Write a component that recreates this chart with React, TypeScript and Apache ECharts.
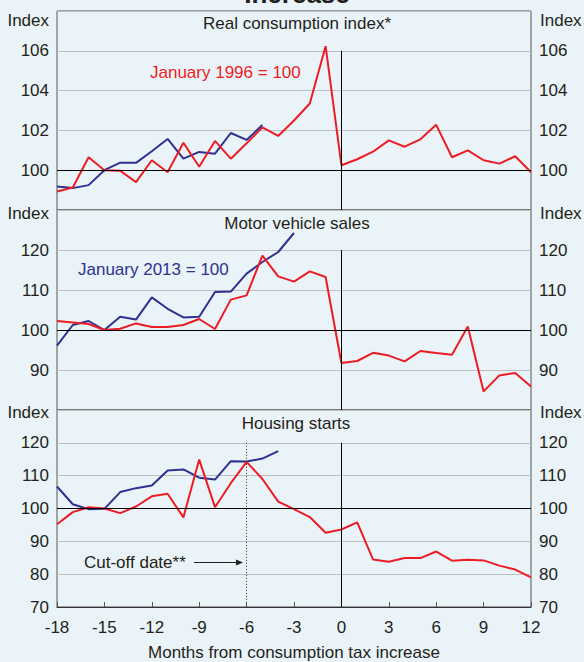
import React, { useEffect, useRef } from 'react';
import * as echarts from 'echarts';

// Months from consumption tax increase
const months = [-18, -17, -16, -15, -14, -13, -12, -11, -10, -9, -8, -7, -6, -5, -4, -3, -2, -1, 0, 1, 2, 3, 4, 5, 6, 7, 8, 9, 10, 11, 12];
const xTicks = [-18, -15, -12, -9, -6, -3, 0, 3, 6, 9, 12];

// Real consumption index (red: 1997 episode, January 1996 = 100; blue: 2014 episode)
const rciRed = [98.93, 99.13, 100.65, 100.0, 99.97, 99.4, 100.5, 99.9, 101.38, 100.17, 101.47, 100.58, 101.35, 102.15, 101.72, 102.5, 103.35, 106.23, 100.25, 100.55, 100.93, 101.5, 101.18, 101.55, 102.28, 100.65, 101.0, 100.5, 100.33, 100.7, 99.9];
const rciBlue = [99.18, 99.1, 99.25, 100.0, 100.38, 100.37, 100.95, 101.57, 100.58, 100.92, 100.83, 101.87, 101.52, 102.27];

// Motor vehicle sales (blue: January 2013 = 100)
const mvsRed = [102.25, 101.9, 101.5, 100.0, 100.3, 101.65, 100.75, 100.75, 101.25, 102.75, 100.25, 107.6, 108.65, 118.6, 113.4, 112.1, 114.65, 113.25, 91.75, 92.25, 94.3, 93.6, 92.15, 94.75, 94.25, 93.8, 100.9, 84.65, 88.65, 89.25, 85.9];
const mvsBlue = [96.1, 101.25, 102.25, 100.0, 103.3, 102.6, 108.15, 105.3, 103.15, 103.3, 109.5, 109.6, 114.1, 117.0, 119.5, 124.25];

// Housing starts
const hsRed = [95.2, 98.9, 100.4, 100.0, 98.6, 100.6, 103.7, 104.5, 97.3, 114.9, 100.4, 107.7, 114.2, 109.0, 102.1, 99.8, 97.4, 92.6, 93.6, 95.8, 84.5, 83.8, 84.9, 84.9, 86.9, 84.1, 84.4, 84.2, 82.6, 81.4, 79.0];
const hsBlue = [106.7, 101.3, 99.8, 99.9, 105.0, 106.2, 107.0, 111.6, 111.9, 109.4, 108.8, 114.4, 114.3, 115.2, 117.5];

const panelTitles = ['Real consumption index*', 'Motor vehicle sales', 'Housing starts'];
const yRanges = [
  { min: 98, max: 108, interval: 2, top: 106 },
  { min: 80, max: 130, interval: 10, top: 120 },
  { min: 70, max: 130, interval: 10, top: 120 },
];

const FONT = '"Liberation Sans", Arial, Helvetica, sans-serif';
const RED = '#ED1C24';
const BLUE = '#2E3192';
const TEXT = '#231F20';
const BG = '#EAF3F7';
const BORDER = '#555555';

const pair = (vals: number[]) => vals.map((v, i) => [months[i], v]);

export default function App() {
  const ref = useRef<HTMLDivElement>(null);
  useEffect(() => {
    document.body.style.margin = '0';
    document.body.style.background = BG;
    const chart = echarts.init(ref.current as HTMLDivElement, null, { renderer: 'svg' });

    const grids = [
      { left: 57, top: 11, width: 474, height: 199 },
      { left: 57, top: 210, width: 474, height: 200 },
      { left: 57, top: 410, width: 474, height: 200 },
    ].map((g) => ({ ...g, show: true, borderColor: BORDER, borderWidth: 1, backgroundColor: 'transparent' }));

    const xAxes = [0, 1, 2].map((gi) => ({
      type: 'value',
      gridIndex: gi,
      min: -18,
      max: 12,
      interval: 3,
      show: gi === 2,
      axisLine: { show: true, lineStyle: { color: '#333', width: 1 } },
      axisTick: { show: true, inside: true, length: 5, lineStyle: { color: '#555', width: 1 } },
      axisLabel: {
        show: true,
        fontSize: 17,
        color: TEXT,
        fontFamily: FONT,
        margin: 12,
        formatter: (v: number) => (xTicks.indexOf(v) >= 0 ? String(v) : ''),
      },
      splitLine: { show: false },
      name: gi === 2 ? 'Months from consumption tax increase' : '',
      nameLocation: 'middle',
      nameGap: 37,
      nameTextStyle: { fontSize: 17, color: TEXT, fontFamily: FONT },
    }));

    const yAxes: any[] = [];
    yRanges.forEach((r, gi) => {
      ['left', 'right'].forEach((pos) => {
        yAxes.push({
          type: 'value',
          gridIndex: gi,
          position: pos,
          min: r.min,
          max: r.max,
          interval: r.interval,
          axisLine: { show: false },
          axisTick: { show: false },
          axisLabel: {
            fontSize: 17,
            color: TEXT,
            fontFamily: FONT,
            margin: 8,
            showMinLabel: gi === 2,
            showMaxLabel: false,
          },
          splitLine: { show: pos === 'left', lineStyle: { color: '#BEBEBE', width: 1 } },
        });
      });
    });

    const lineSeries = (name: string, data: number[], color: string, gi: number) => ({
      type: 'line',
      name,
      xAxisIndex: gi,
      yAxisIndex: gi * 2,
      data: pair(data),
      showSymbol: false,
      symbol: 'none',
      lineStyle: { color, width: 2 },
      itemStyle: { color },
      z: 3,
    });

    const refSeries = (gi: number) => {
      const r = yRanges[gi];
      const data: any[] = [
        { yAxis: 100 },
        [{ coord: [0, r.top] }, { coord: [0, r.min] }],
      ];
      const ml: any = {
        silent: true,
        symbol: 'none',
        label: { show: false },
        lineStyle: { color: '#000', width: 1, type: 'solid' },
        data,
      };
      return {
        type: 'line',
        xAxisIndex: gi,
        yAxisIndex: gi * 2,
        data: [],
        z: 1,
        markLine: ml,
      };
    };

    const cutoffSeries = {
      type: 'line',
      xAxisIndex: 2,
      yAxisIndex: 4,
      data: [],
      z: 1,
      markLine: {
        silent: true,
        symbol: 'none',
        label: { show: false },
        lineStyle: { color: '#333', width: 1, type: [1, 2] },
        data: [[{ coord: [-6, 120] }, { coord: [-6, 70] }]],
      },
    };

    const series: any[] = [
      refSeries(0),
      refSeries(1),
      refSeries(2),
      cutoffSeries,
      lineSeries('Real consumption 2014', rciBlue, BLUE, 0),
      lineSeries('Real consumption 1997', rciRed, RED, 0),
      lineSeries('Motor vehicle sales 2014', mvsBlue, BLUE, 1),
      lineSeries('Motor vehicle sales 1997', mvsRed, RED, 1),
      lineSeries('Housing starts 2014', hsBlue, BLUE, 2),
      lineSeries('Housing starts 1997', hsRed, RED, 2),
    ];

    const txt = (text: string, x: number, y: number, align: string, color = TEXT, size = 17, weight = 'normal') => ({
      type: 'text',
      x,
      y,
      silent: true,
      z: 10,
      style: { text, fill: color, fontSize: size, fontFamily: FONT, fontWeight: weight, align, verticalAlign: 'middle' },
    });

    const graphic: any[] = [
      txt('Increase', 297, -6, 'center', TEXT, 26, 'bold'),
      txt(panelTitles[0], 297, 23, 'center'),
      txt(panelTitles[1], 297, 223, 'center'),
      txt(panelTitles[2], 296, 423, 'center'),
      txt('January 1996 = 100', 150, 72, 'left', RED),
      txt('January 2013 = 100', 78, 269, 'left', BLUE),
      txt('Index', 49, 20, 'right'),
      txt('Index', 540, 20, 'left'),
      txt('Index', 49, 213, 'right'),
      txt('Index', 540, 213, 'left'),
      txt('Index', 49, 412, 'right'),
      txt('Index', 540, 412, 'left'),
      txt('Cut-off date**', 84, 562, 'left'),
      { type: 'line', silent: true, z: 10, shape: { x1: 194, y1: 562.5, x2: 238, y2: 562.5 }, style: { stroke: '#222', lineWidth: 1 } },
      { type: 'polygon', silent: true, z: 10, shape: { points: [[236, 559.5], [243, 562.5], [236, 565.5]] }, style: { fill: '#222' } },
    ];

    chart.setOption({
      animation: false,
      backgroundColor: BG,
      textStyle: { fontFamily: FONT },
      grid: grids,
      xAxis: xAxes,
      yAxis: yAxes,
      series,
      graphic,
    });
    return () => chart.dispose();
  }, []);
  return <div ref={ref} style={{ position: 'absolute', left: 0, top: 0, width: 584, height: 662 }} />;
}
